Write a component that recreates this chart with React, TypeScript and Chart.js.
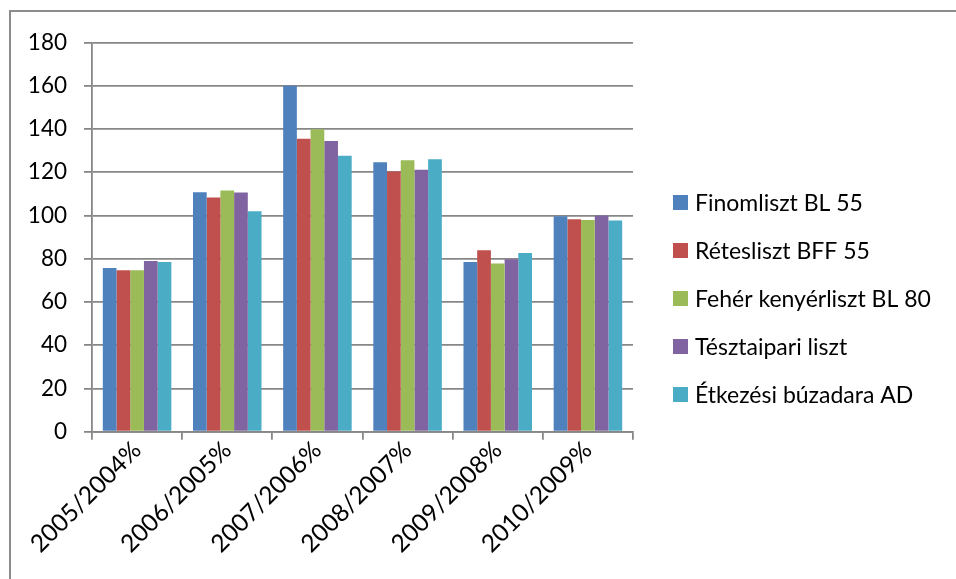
import React, { useEffect, useRef } from "react";
import { Chart, registerables } from "chart.js";

Chart.register(...registerables);

const categories = ["2005/2004%", "2006/2005%", "2007/2006%", "2008/2007%", "2009/2008%", "2010/2009%"];

const seriesNames = [
  "Finomliszt BL 55",
  "Rétesliszt BFF 55",
  "Fehér kenyérliszt BL 80",
  "Tésztaipari liszt",
  "Étkezési búzadara AD",
];

const finomliszt = [75.7, 110.8, 160.0, 124.6, 78.5, 99.7];
const retesliszt = [74.7, 108.3, 135.5, 120.3, 83.9, 98.3];
const feherKenyerliszt = [74.7, 111.5, 139.9, 125.5, 77.8, 97.9];
const tesztaipariLiszt = [79.0, 110.6, 134.4, 121.2, 79.8, 100.0];
const etkezesiBuzadara = [78.5, 101.9, 127.6, 126.0, 82.7, 97.7];

const seriesValues = [finomliszt, retesliszt, feherKenyerliszt, tesztaipariLiszt, etkezesiBuzadara];
const seriesColors = ["#4F81BD", "#C0504D", "#9BBB59", "#8064A2", "#4BACC6"];

const yMin = 0;
const yMax = 180;
const yStep = 20;

const FONT_FAMILY = "Lato, 'Noto Sans', sans-serif";
const FONT_SIZE = 22.5;
const X_FONT_SIZE = 24.5;
const LEGEND_FONT_SIZE = 23;
const GRID_COLOR = "#878787";
const FRAME_COLOR = "#8c8c8c";

const LEGEND_FIRST_Y = 190.5;
const LEGEND_STEP = 48;
const LEGEND_OFFSET_X = 40;
const LEGEND_BOX = 15;

const sideLegend = {
  id: "sideLegend",
  afterDraw(chart: any) {
    const ctx = chart.ctx;
    const area = chart.chartArea;
    ctx.save();
    ctx.font = `${LEGEND_FONT_SIZE}px ${FONT_FAMILY}`;
    ctx.textBaseline = "middle";
    ctx.textAlign = "left";
    chart.data.datasets.forEach((ds: any, i: number) => {
      const cy = LEGEND_FIRST_Y + i * LEGEND_STEP;
      const x = area.right + LEGEND_OFFSET_X;
      ctx.fillStyle = ds.backgroundColor;
      ctx.fillRect(x, cy - LEGEND_BOX / 2, LEGEND_BOX, LEGEND_BOX);
      ctx.fillStyle = "#000";
      ctx.fillText(ds.label, x + LEGEND_BOX + 7, cy + 1);
    });
    ctx.restore();
  },
};

export default function App() {
  const ref = useRef<HTMLCanvasElement | null>(null);

  useEffect(() => {
    document.documentElement.style.overflow = "hidden";
    document.body.style.overflow = "hidden";
    if (!ref.current) return;
    const chart = new Chart(ref.current, {
      type: "bar",
      data: {
        labels: categories,
        datasets: seriesNames.map((name, i) => ({
          label: name,
          data: seriesValues[i],
          backgroundColor: seriesColors[i],
          borderWidth: 0,
          categoryPercentage: 0.76,
          barPercentage: 1,
        })),
      },
      options: {
        animation: false,
        responsive: false,
        maintainAspectRatio: false,
        layout: { padding: { top: 28.5, right: 323, bottom: 0, left: 0 } },
        plugins: {
          legend: { display: false },
          tooltip: { enabled: false },
          title: { display: false },
        },
        scales: {
          x: {
            offset: true,
            grid: {
              display: true,
              drawOnChartArea: false,
              drawTicks: true,
              tickLength: 8,
              color: GRID_COLOR,
              lineWidth: 1.8,
            },
            border: { display: true, color: GRID_COLOR, width: 1.8 },
            ticks: {
              color: "#000",
              font: { family: FONT_FAMILY, size: X_FONT_SIZE },
              minRotation: 45,
              maxRotation: 45,
              padding: -4,
              autoSkip: false,
            },
            afterFit: (scale: any) => {
              scale.height = 147.3;
            },
          },
          y: {
            min: yMin,
            max: yMax,
            grid: {
              color: GRID_COLOR,
              lineWidth: 1.8,
              tickLength: 8,
              drawTicks: true,
            },
            border: { display: true, color: GRID_COLOR, width: 1.8 },
            ticks: {
              stepSize: yStep,
              color: "#000",
              font: { family: FONT_FAMILY, size: FONT_SIZE },
              padding: 17,
            },
            afterFit: (scale: any) => {
              scale.width = 82;
            },
          },
        },
      },
      plugins: [sideLegend],
    });
    return () => chart.destroy();
  }, []);

  return (
    <div style={{ position: "fixed", left: 0, top: 0, width: 956, height: 579, overflow: "hidden", background: "#fff" }}>
      <div style={{ position: "absolute", left: 9, top: 10, width: 2000, height: 2, background: FRAME_COLOR }} />
      <div style={{ position: "absolute", left: 9, top: 10, width: 2, height: 2000, background: FRAME_COLOR }} />
      <canvas
        ref={ref}
        width={946}
        height={567}
        style={{ position: "absolute", left: 10, top: 12, width: 946, height: 567 }}
      />
    </div>
  );
}
